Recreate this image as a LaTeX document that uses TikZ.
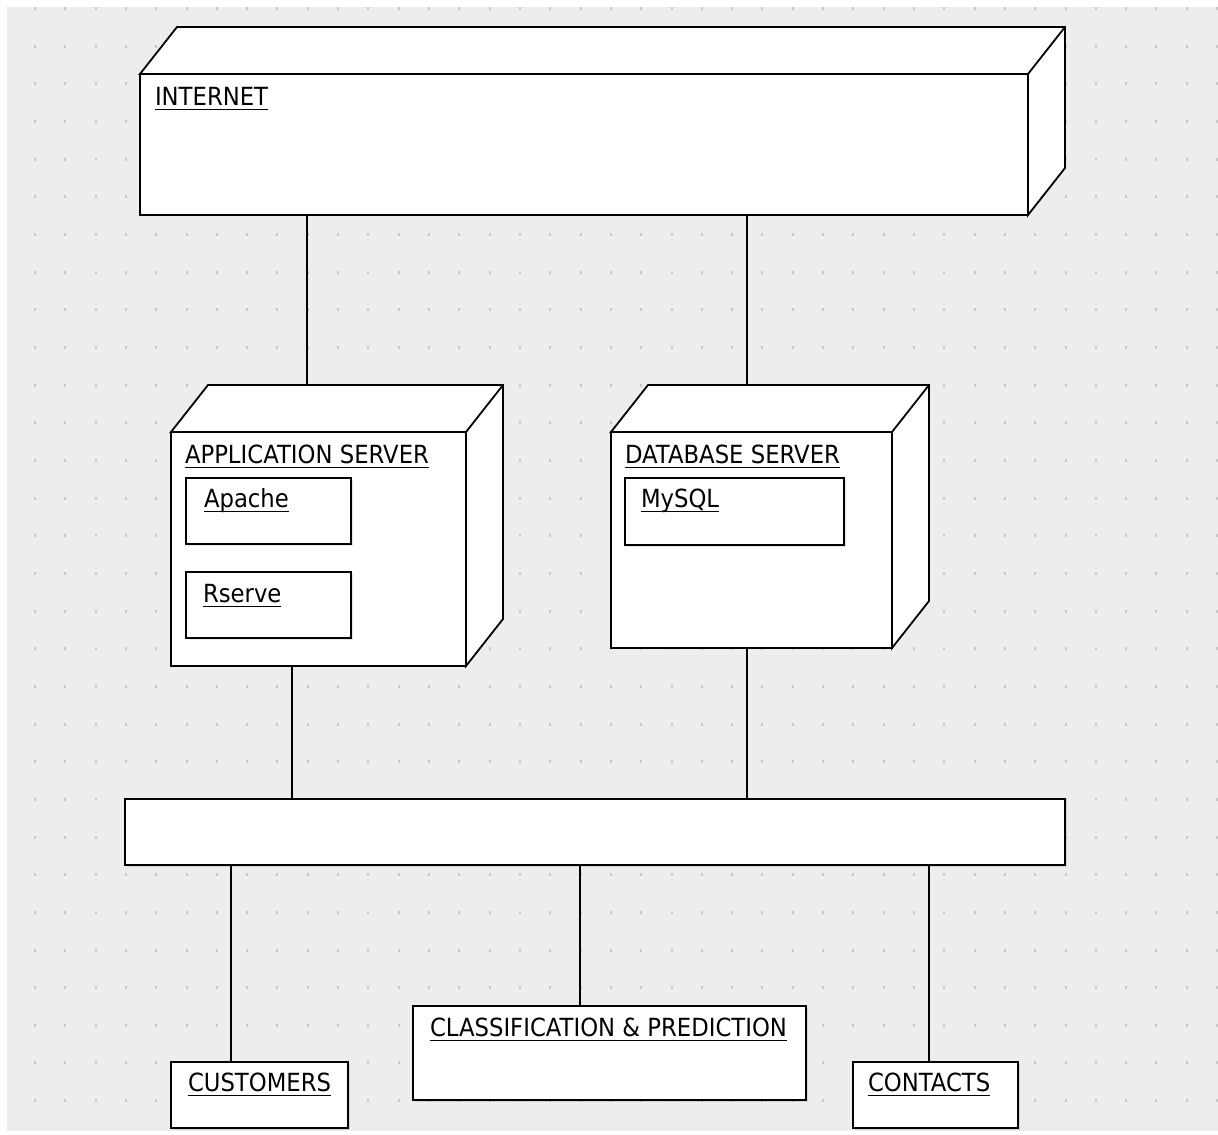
\documentclass[tikz,border=0pt]{standalone}
\usepackage{fontspec}
\setmainfont{DejaVu Sans}[FakeStretch=0.91]
\usetikzlibrary{calc,shadows}
\pgfdeclarelayer{grid}
\pgfdeclarelayer{wires}
\pgfsetlayers{grid,wires,main}

\definecolor{canvasbg}{HTML}{EDEDED}
\definecolor{griddot}{HTML}{C8C8C8}

\tikzset{
  box/.style={draw=black, line width=1.8pt, fill=white, rectangle,
    anchor=north west, inner sep=0pt, outer sep=0pt},
  part/.style={box, general shadow={fill=black, opacity=0.10,
    shadow xshift=2pt, shadow yshift=-2pt}},
  wire/.style={line width=1.8pt, draw=black},
  lbl/.style={anchor=base west, inner sep=0pt, outer sep=0pt,
    font=\fontsize{25}{30}\selectfont},
  uline/.style={line width=1.5pt},
  face/.style={draw=black, line width=1.8pt, fill=white, line join=miter},
}

% underlined stereotype-free UML label
\newcommand\ulabel[4]{%
  \node[lbl] (#1) at (#2,#3) {#4};
  \draw[uline] ([yshift=-4.5pt]#1.base west) -- ([yshift=-4.5pt]#1.base east);}

% top and right faces of a UML deployment node
\newcommand\depthfaces[1]{%
  \draw[face] (#1.north west) -- ++(37,-47) -| ($(#1.south east)+(37,-47)$)
    -- (#1.south east) -- (#1.north east) -- cycle;
  \draw[face] (#1.north east) -- ++(37,-47);}

\begin{document}
\begin{tikzpicture}[x=1pt, y=-1pt]
\useasboundingbox (0,0) rectangle (1218,1135);

% canvas with dotted grid
\begin{pgfonlayer}{grid}
  \fill[white] (0,0) rectangle (1218,1135);
  \fill[canvasbg] (7,7) rectangle (1218,1131);
  \foreach \i in {0,...,39}
    \foreach \j in {0,...,29}
      \fill[griddot] ({34+30.31*\i},{7+37.66*\j}) rectangle ++(2,3);
\end{pgfonlayer}

% deployment nodes
\node[box, minimum width=888pt, minimum height=141pt] (inet) at (140,74) {};
\depthfaces{inet}
\node[box, minimum width=295pt, minimum height=234pt] (appsrv) at (171,432) {};
\depthfaces{appsrv}
\node[box, minimum width=281pt, minimum height=216pt] (dbsrv) at (611,432) {};
\depthfaces{dbsrv}

% components
\node[part, minimum width=165pt, minimum height=66pt] (apache) at (186,478) {};
\node[part, minimum width=165pt, minimum height=66pt] (rserve) at (186,572) {};
\node[part, minimum width=219pt, minimum height=67pt] (mysql) at (625,478) {};

% network bus and client packages
\node[part, minimum width=940pt, minimum height=66pt] (bus) at (125,799) {};
\node[part, minimum width=177pt, minimum height=66pt] (cust) at (171,1062) {};
\node[part, minimum width=393pt, minimum height=94pt] (classif) at (413,1006) {};
\node[part, minimum width=165pt, minimum height=66pt] (cont) at (853,1062) {};

% labels
\ulabel{tInet}{155}{105}{INTERNET}
\ulabel{tApp}{185}{463}{APPLICATION SERVER}
\ulabel{tApache}{204}{507}{Apache}
\ulabel{tRserve}{203}{602}{Rserve}
\ulabel{tDb}{625}{463}{DATABASE SERVER}
\ulabel{tMysql}{641}{507}{MySQL}
\ulabel{tClass}{430}{1036}{CLASSIFICATION \& PREDICTION}
\ulabel{tCust}{188}{1091}{CUSTOMERS}
\ulabel{tCont}{868}{1091}{CONTACTS}

% communication paths
\begin{pgfonlayer}{wires}
  \draw[wire] ([xshift=167pt]inet.south west) -- ([xshift=136pt]appsrv.north west);
  \draw[wire] ([xshift=607pt]inet.south west) -- ([xshift=136pt]dbsrv.north west);
  \draw[wire] ([xshift=121pt]appsrv.south west) -- ([xshift=167pt]bus.north west);
  \draw[wire] ([xshift=136pt]dbsrv.south west) -- ([xshift=622pt]bus.north west);
  \draw[wire] ([xshift=106pt]bus.south west) -- ([xshift=60pt]cust.north west);
  \draw[wire] ([xshift=455pt]bus.south west) -- ([xshift=167pt]classif.north west);
  \draw[wire] ([xshift=804pt]bus.south west) -- ([xshift=76pt]cont.north west);
\end{pgfonlayer}
\end{tikzpicture}
\end{document}
